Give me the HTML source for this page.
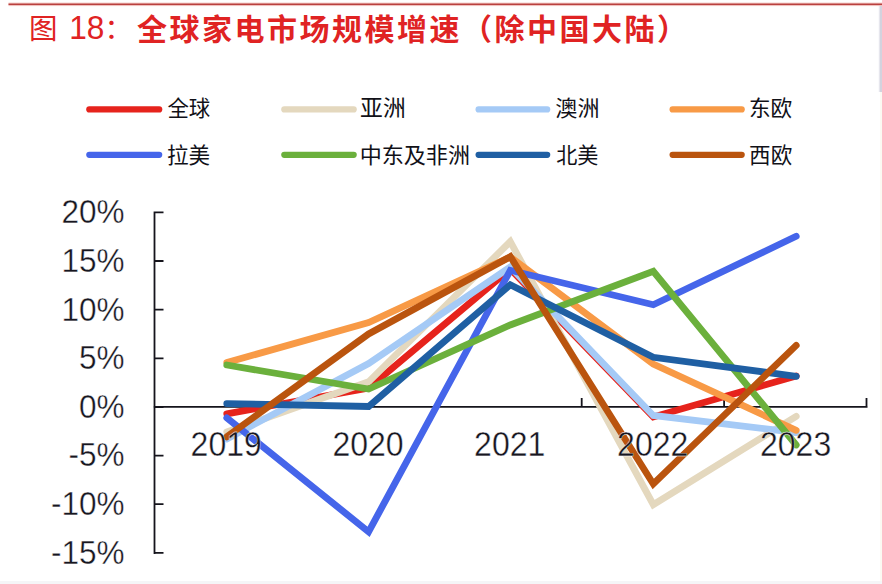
<!DOCTYPE html>
<html lang="zh-CN">
<head>
<meta charset="utf-8">
<title>图 18：全球家电市场规模增速（除中国大陆）</title>
<style>
html,body{margin:0;padding:0;background:#fff;}
body{width:882px;height:584px;overflow:hidden;font-family:"Liberation Sans","Noto Sans CJK SC",sans-serif;}
svg{display:block;}
svg text{font-family:"Liberation Sans","Noto Sans CJK SC",sans-serif;}
.ax{fill:none;stroke:#15141c;stroke-width:1.8;}
.lbl text{fill:#17161f;stroke:#fff;stroke-width:.35;paint-order:fill stroke;}
.ser polyline{fill:none;stroke-width:6.8;stroke-linecap:round;stroke-linejoin:miter;}
.leg line{stroke-width:6.2;stroke-linecap:round;}
.legtxt text{fill:#111118;}
</style>
</head>
<body>
<svg width="882" height="584" viewBox="0 0 882 584" role="img" aria-label="全球家电市场规模增速（除中国大陆）">
<rect width="882" height="584" fill="#ffffff"/>
<!-- top rule -->
<rect x="8.5" y="2.5" width="873.5" height="3.6" fill="#f6d2ce"/>
<rect x="8.5" y="3.5" width="873.5" height="1.6" fill="#b9413f"/>
<!-- faint right edge -->
<rect x="878.8" y="6" width="1" height="86" fill="#e6e6ee"/><rect x="879.8" y="6" width="2.2" height="86" fill="#d3d3de"/><rect x="880" y="92" width="2" height="492" fill="#fbfaf3"/>
<rect x="0" y="581" width="882" height="3" fill="#f5f5f7"/>
<!-- title -->
<text x="29" y="39.2" font-size="28.5" fill="#e02323">图</text>
<text transform="translate(69.3 39.2) scale(1 1.03)" font-size="31.6" fill="#e02323">18<tspan font-size="28">：</tspan></text>
<text x="137" y="39.7" font-size="30" font-weight="bold" fill="#e02323" textLength="550" lengthAdjust="spacing">全球家电市场规模增速（除中国大陆）</text>
<!-- legend -->
<g class="leg"><line x1="89.3" y1="109.4" x2="159.2" y2="109.4" stroke="#e6231c"/><line x1="284.3" y1="109.4" x2="353.7" y2="109.4" stroke="#e4d8be"/><line x1="478.6" y1="109.4" x2="547.2" y2="109.4" stroke="#a5caf6"/><line x1="672.6" y1="109.4" x2="741.7" y2="109.4" stroke="#f89a46"/><line x1="89.3" y1="154.8" x2="159.2" y2="154.8" stroke="#4565ea"/><line x1="284.3" y1="154.8" x2="353.7" y2="154.8" stroke="#6bb03c"/><line x1="478.6" y1="154.8" x2="547.2" y2="154.8" stroke="#1f5fa3"/><line x1="672.6" y1="154.8" x2="741.7" y2="154.8" stroke="#ba540e"/></g>
<g class="legtxt"><text x="167.4" y="116.4" font-size="21.4" textLength="42.8">全球</text><text x="360.1" y="116.4" font-size="22.8" textLength="45.7">亚洲</text><text x="555.3" y="116.4" font-size="22.1" textLength="44.2">澳洲</text><text x="748.9" y="116.4" font-size="21.7" textLength="43.4">东欧</text><text x="167.0" y="163.1" font-size="21.6" textLength="43.1">拉美</text><text x="359.7" y="163.1" font-size="22.1" textLength="110.3">中东及非洲</text><text x="556.2" y="163.1" font-size="21.1" textLength="42.2">北美</text><text x="749.1" y="163.1" font-size="21.6" textLength="43.2">西欧</text></g>
<!-- axes -->
<path class="ax" d="M154.5 211.4V553.88M153.5 406.9H867.5M154.5 212.4h9M154.5 261.0h9M154.5 309.7h9M154.5 358.3h9M154.5 407.0h9M154.5 455.6h9M154.5 504.2h9M154.5 552.9h9M154.5 406.9v-9M296.9 406.9v-9M439.3 406.9v-9M581.7 406.9v-9M724.1 406.9v-9M866.5 406.9v-9"/>
<!-- series -->
<g class="ser"><polyline stroke="#e6231c" points="226.8,413.8 368.6,388.0 510.3,269.0 653.3,417.0 796.2,376.0"/><polyline stroke="#e4d8be" points="226.8,432.0 368.6,381.8 510.3,241.6 653.3,504.7 796.2,416.3"/><polyline stroke="#a5caf6" points="226.8,439.0 368.6,363.5 510.3,267.0 653.3,415.5 796.2,432.5"/><polyline stroke="#f89a46" points="226.8,362.5 368.6,322.6 510.3,257.0 653.3,364.0 796.2,430.3"/><polyline stroke="#4565ea" points="226.8,417.8 368.6,531.8 510.3,270.3 653.3,304.7 796.2,236.3"/><polyline stroke="#6bb03c" points="226.8,365.0 368.6,389.0 510.3,325.0 653.3,271.3 796.2,445.0"/><polyline stroke="#1f5fa3" points="226.8,403.6 368.6,406.5 510.3,284.7 653.3,357.3 796.2,376.3"/><polyline stroke="#ba540e" points="226.8,436.8 368.6,333.9 510.3,256.6 653.3,484.0 796.2,345.4"/></g>
<g class="lbl"><text transform="translate(124.6 223.2) scale(1 1.07)" font-size="31.5" text-anchor="end">20%</text><text transform="translate(124.6 271.8) scale(1 1.07)" font-size="31.5" text-anchor="end">15%</text><text transform="translate(124.6 320.5) scale(1 1.07)" font-size="31.5" text-anchor="end">10%</text><text transform="translate(124.6 369.1) scale(1 1.07)" font-size="31.5" text-anchor="end">5%</text><text transform="translate(124.6 417.8) scale(1 1.07)" font-size="31.5" text-anchor="end">0%</text><text transform="translate(124.6 466.4) scale(1 1.07)" font-size="31.5" text-anchor="end">-5%</text><text transform="translate(124.6 515.0) scale(1 1.07)" font-size="31.5" text-anchor="end">-10%</text><text transform="translate(124.6 563.7) scale(1 1.07)" font-size="31.5" text-anchor="end">-15%</text><text transform="translate(226.2 455.9) scale(1 1.08)" font-size="32" text-anchor="middle">2019</text><text transform="translate(368.0 455.9) scale(1 1.08)" font-size="32" text-anchor="middle">2020</text><text transform="translate(509.7 455.9) scale(1 1.08)" font-size="32" text-anchor="middle">2021</text><text transform="translate(652.7 455.9) scale(1 1.08)" font-size="32" text-anchor="middle">2022</text><text transform="translate(795.6 455.9) scale(1 1.08)" font-size="32" text-anchor="middle">2023</text></g>
</svg>
</body>
</html>
